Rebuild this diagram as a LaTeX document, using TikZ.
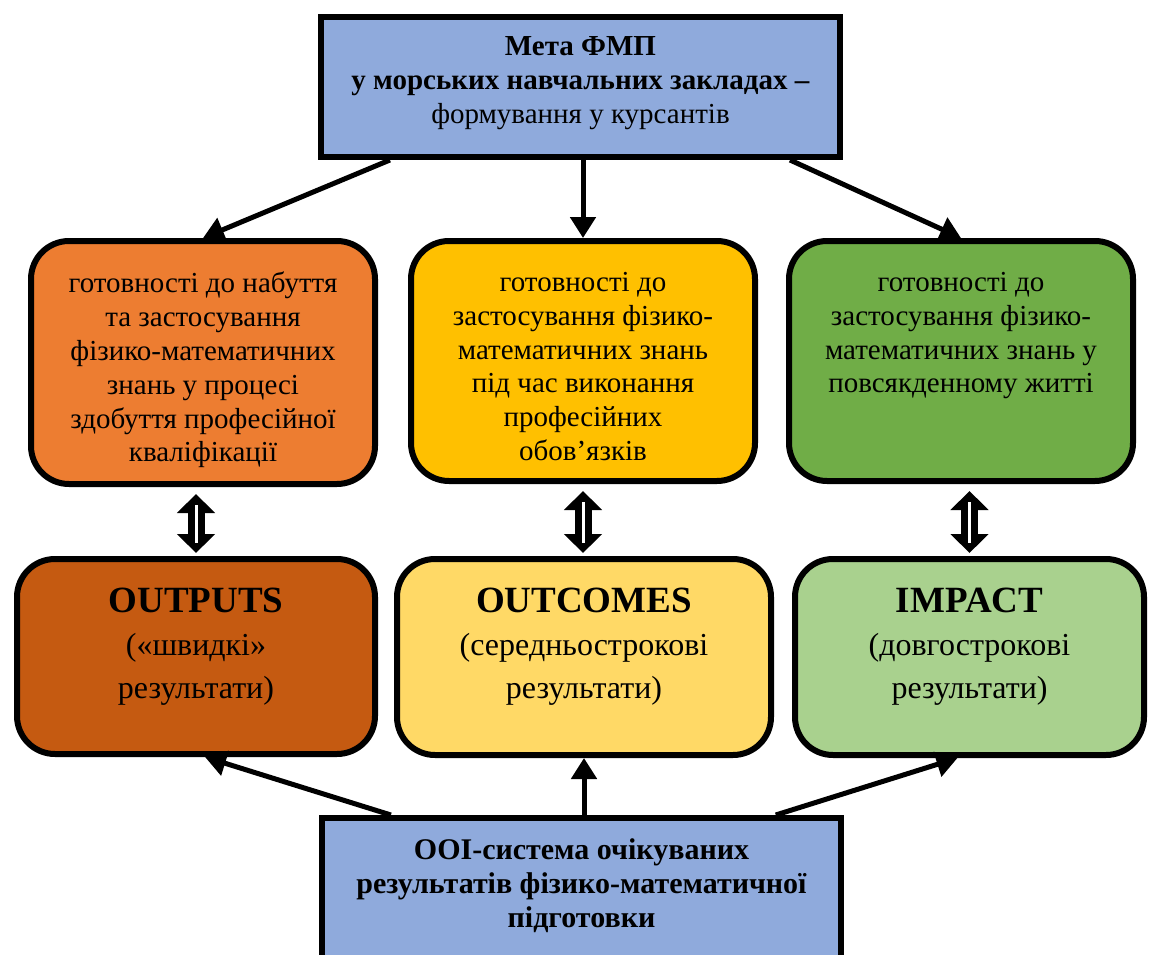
\documentclass[tikz,border=0pt]{standalone}
\usepackage{fontspec}
\setmainfont{Liberation Serif}
\usetikzlibrary{arrows.meta,calc}
\definecolor{goalblue}{HTML}{8FAADC}
\definecolor{orA}{HTML}{ED7D31}
\definecolor{yeA}{HTML}{FFC000}
\definecolor{grA}{HTML}{70AD47}
\definecolor{orB}{HTML}{C55A11}
\definecolor{yeB}{HTML}{FFD966}
\definecolor{grB}{HTML}{A9D18E}
\begin{document}
\begin{tikzpicture}[x=1pt,y=-1pt,
  sqbox/.style={draw=black, line width=6pt, fill=goalblue, inner sep=0pt, minimum width=519pt},
  rbox/.style={draw=black, line width=6pt, rounded corners=38pt, inner sep=0pt},
  midtxt/.style={align=center, inner sep=0pt, anchor=north, font=\fontsize{29}{33.8}\selectfont},
  bottxt/.style={align=center, inner sep=0pt, anchor=north, font=\fontsize{32}{43}\selectfont},
  arr/.style={line width=5pt, -{Triangle[width=25pt,length=21pt]}},
  dblarr/.style={line width=17pt, {Triangle[width=37pt,length=19pt]}-{Triangle[width=37pt,length=19pt]}, shorten <=7pt, shorten >=3pt},
  slit/.style={white, line width=3pt, shorten <=18pt, shorten >=13pt},
]
\useasboundingbox (0,0) rectangle (1149,955);

% goal box
\node[sqbox, minimum height=140pt] (goal) at (580.5,87) {};
\node[align=center, inner sep=0pt, anchor=north, font=\fontsize{29}{34}\selectfont] (goaltxt) at (580.5,36)
  {\textbf{Мета ФМП}\\ \textbf{у морських навчальних закладах –}\\ формування у курсантів};

% middle row
\node[rbox, fill=orA, minimum width=344pt, minimum height=243pt] (m1) at (203,362.5) {};
\node[rbox, fill=yeA, minimum width=344pt, minimum height=240pt] (m2) at (583,361) {};
\node[rbox, fill=grA, minimum width=344pt, minimum height=240pt] (m3) at (961,361) {};

\node[midtxt] (m1t) at (203,272) {готовності до набуття\\ та застосування\\ фізико-математичних\\ знань у процесі\\ здобуття професійної\\ кваліфікації};
\node[midtxt] (m2t) at (583,272) {готовності до\\ застосування фізико-\\ математичних знань\\ під час виконання\\ професійних\\ обов’язків};
\node[midtxt] (m3t) at (961,272) {готовності до\\ застосування фізико-\\ математичних знань у\\ повсякденному житті};

% bottom row
\node[rbox, fill=orB, minimum width=358pt, minimum height=195pt] (b1) at (196,656.5) {};
\node[rbox, fill=yeB, minimum width=374pt, minimum height=196pt] (b2) at (584,657) {};
\node[rbox, fill=grB, minimum width=349pt, minimum height=196pt] (b3) at (969.5,657) {};

\node[bottxt] (b1t) at (196,588) {{\fontsize{37}{43}\selectfont\bfseries OUTPUTS}\\ («швидкі»\\ результати)};
\node[bottxt] (b2t) at (584,588) {{\fontsize{37}{43}\selectfont\bfseries OUTCOMES}\\ (середньострокові\\ результати)};
\node[bottxt] (b3t) at (969.5,588) {{\fontsize{37}{43}\selectfont\bfseries IMPACT}\\ (довгострокові\\ результати)};

% system box
\node[sqbox, minimum height=182pt] (sys) at (581.5,909) {};
\node[align=center, inner sep=0pt, anchor=north, font=\fontsize{30}{34}\selectfont\bfseries] (systxt) at (581.5,838)
  {ООІ-система очікуваних\\ результатів фізико-математичної\\ підготовки};

% arrows from goal
\draw[arr] ($(goal.south west)!0.137!(goal.south east)$) -- (m1.north);
\draw[arr] (goal.south -| m2.north) -- (m2.north);
\draw[arr] ($(goal.south west)!0.899!(goal.south east)$) -- (m3.north);

% double arrows
\draw[dblarr] (b1.north |- m1.south) -- (b1.north);
\draw[slit] (b1.north |- m1.south) -- (b1.north);
\draw[dblarr] (m2.south) -- (m2.south |- b2.north);
\draw[slit] (m2.south) -- (m2.south |- b2.north);
\draw[dblarr] (b3.north |- m3.south) -- (b3.north);
\draw[slit] (b3.north |- m3.south) -- (b3.north);

% arrows from system
\draw[arr] ($(sys.north west)!0.137!(sys.north east)$) -- ($(b1.south)+(9,0)$);
\draw[arr] (sys.north -| b2.south) -- (b2.south);
\draw[arr] ($(sys.north west)!0.87!(sys.north east)$) -- ($(b3.south)+(-12,0)$);
\end{tikzpicture}
\end{document}
